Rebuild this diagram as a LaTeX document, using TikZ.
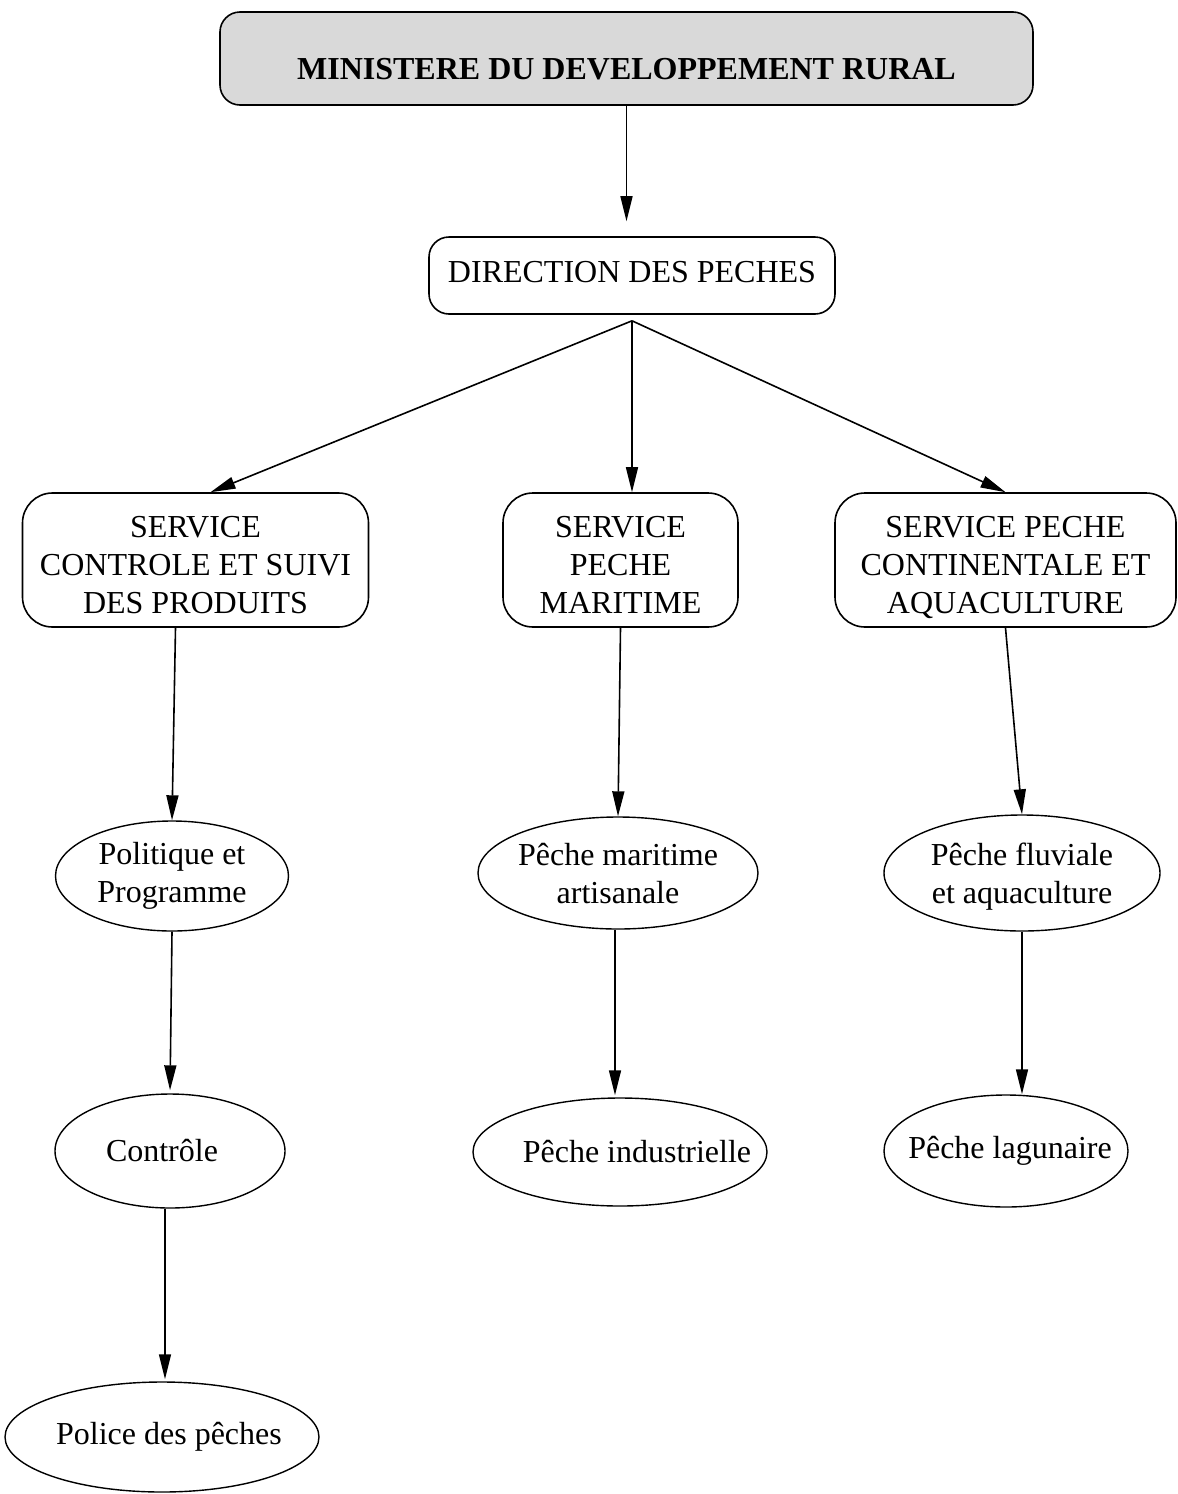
\documentclass[tikz,border=0pt]{standalone}
\usepackage{fontspec}
\setmainfont{Liberation Serif}
\usetikzlibrary{arrows.meta,shapes.geometric}
\newcommand\boxtext[2]{\raisebox{#1}[0pt][0pt]{\begin{tabular}{@{}c@{}}#2\end{tabular}}}
\begin{document}
\begin{tikzpicture}[x=1pt,y=-1pt,
  every node/.style={font=\fontsize{32}{38}\selectfont, align=center, inner sep=0pt},
  rbox/.style={draw, line width=1.6pt, rounded corners=#1},
  oval/.style={draw, ellipse, line width=1.4pt, inner xsep=-60pt, inner ysep=-40pt},
  arr/.style={line width=1.6pt, -{Triangle[length=25pt,width=12pt]}}
]
\useasboundingbox (0,0) rectangle (1178,1494);
% boxes
\node[rbox=20pt, fill=black!15, minimum width=813pt, minimum height=93pt] (min) at (626.5,58.5)
  {\boxtext{-20pt}{\textbf{MINISTERE DU DEVELOPPEMENT RURAL}}};
\node[rbox=20pt, minimum width=406pt, minimum height=77pt] (dir) at (632,275.5)
  {\boxtext{-5.5pt}{DIRECTION DES PECHES}};
\node[rbox=30pt, minimum width=346pt, minimum height=134pt] (s1) at (195.5,560)
  {\boxtext{-14pt}{SERVICE\\CONTROLE ET SUIVI\\DES PRODUITS}};
\node[rbox=30pt, minimum width=235pt, minimum height=134pt] (s2) at (620.5,560)
  {\boxtext{-14pt}{SERVICE\\PECHE\\MARITIME}};
\node[rbox=30pt, minimum width=341pt, minimum height=134pt] (s3) at (1005.5,560)
  {\boxtext{-14pt}{SERVICE PECHE\\CONTINENTALE ET\\AQUACULTURE}};
% ellipses
\node[oval, minimum width=233pt, minimum height=110pt] (pol) at (172,876)
  {\boxtext{-6pt}{Politique et\\Programme}};
\node[oval, minimum width=280pt, minimum height=112pt] (mar) at (618,873)
  {\boxtext{-10pt}{Pêche maritime\\artisanale}};
\node[oval, minimum width=276pt, minimum height=116pt] (flu) at (1022,873)
  {\boxtext{-10pt}{Pêche fluviale\\et aquaculture}};
\node[oval, minimum width=230pt, minimum height=114pt] (con) at (170,1151)
  {\hspace*{-16pt}Contrôle};
\node[oval, minimum width=294pt, minimum height=108pt] (ind) at (620,1152)
  {\hspace*{34pt}Pêche industrielle};
\node[oval, minimum width=244pt, minimum height=112pt] (lag) at (1006,1151)
  {\hspace*{8pt}Pêche lagunaire};
\node[oval, minimum width=314pt, minimum height=110pt] (pdp) at (162,1437)
  {\hspace*{14pt}Police des pêches};
% connectors
\coordinate (hub) at ([yshift=-6pt]dir.south);
\draw[arr, shorten >=15pt] (min.south) -- (min.south |- dir.north);
\draw[arr] (hub) -- ([xshift=15pt]s1.north);
\draw[arr] (hub) -- (hub |- s2.north);
\draw[arr] (hub) -- (s3.north);
\draw[arr] ([xshift=-20pt]s1.south) -- (pol.north);
\draw[arr] (s2.south) -- (mar.north);
\draw[arr] (s3.south) -- (flu.north);
\draw[arr, shorten >=3pt] (pol.south) -- (con.north);
\draw[arr, shorten >=2pt] ([xshift=-3pt]mar.south) -- ([xshift=-5pt]ind.north);
\draw[arr] (flu.south) -- (flu.south |- lag.north);
\draw[arr, shorten >=2pt] ([xshift=-5pt]con.south) -- ([xshift=3pt]pdp.north);
\end{tikzpicture}
\end{document}
